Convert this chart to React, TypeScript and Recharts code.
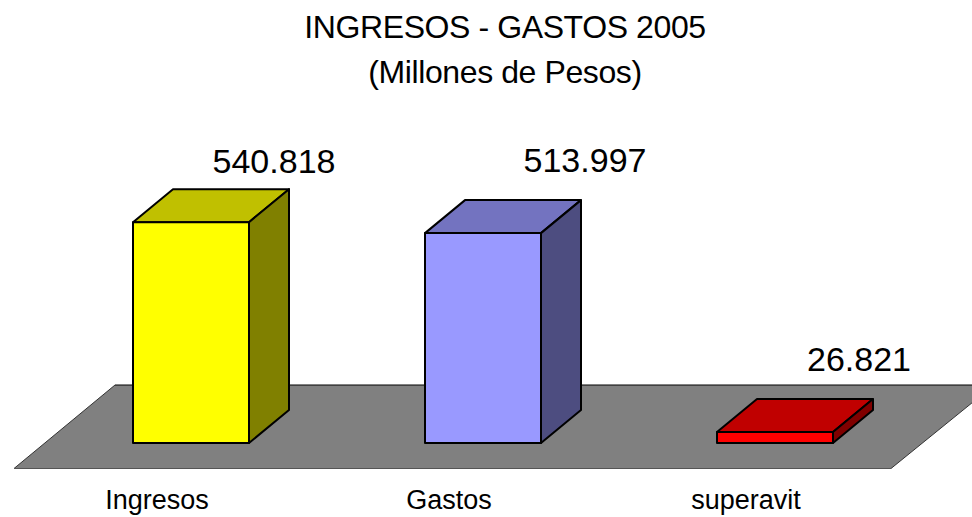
import { BarChart, Bar, XAxis, YAxis, LabelList, usePlotArea } from "recharts";

const categories = ["Ingresos", "Gastos", "superavit"];
const values = [540.818, 513.997, 26.821];
const titleLines = ["INGRESOS - GASTOS 2005", "(Millones de Pesos)"];

const chartData = categories.map((name, i) => ({ name, value: values[i] }));

// front, top, side
const barColors = [
  ["#FFFF00", "#C0C000", "#808000"],
  ["#9999FF", "#7373C0", "#4D4D80"],
  ["#FF0000", "#C00000", "#800000"],
];
const DEPTH_X = 40;
const DEPTH_Y = 33;
const font = "'Liberation Sans', Arial, sans-serif";

// data labels sit wherever they were dragged in the original, not on the bars
const labelShift = [
  [83, -49],
  [102, -61],
  [84, -61],
];
const tickShift = [-34, -34, -29];

// fake 3D floor under the bars
function Floor() {
  const plot = usePlotArea();
  if (!plot) return null;
  const bottom = plot.y + plot.height;
  const frontY = bottom + 25.5;
  const backY = bottom - 58;
  const left = plot.x;
  const right = plot.x + plot.width;
  const pts = `${left - 31},${frontY} ${right - 30},${frontY} ${right + 73},${backY} ${left + 70},${backY}`;
  return (
    <g>
      <polygon points={pts} fill="#808080" stroke="none" />
      <line x1={left - 31} y1={frontY} x2={left + 70} y2={backY} stroke="#333" />
      <line x1={left + 70} y1={backY} x2={right + 73} y2={backY} stroke="#000" />
      <line x1={left - 31} y1={frontY} x2={right - 30} y2={frontY} stroke="#555" />
      <line x1={right - 30} y1={frontY} x2={right + 73} y2={backY} stroke="#333" />
    </g>
  );
}

function Box(props: any) {
  const { x, y, width, height, index } = props;
  const [front, top, side] = barColors[index];
  const r = x + width;
  const b = y + height;
  return (
    <g stroke="#000" strokeWidth={2} strokeLinejoin="round">
      <polygon points={`${x},${y} ${r},${y} ${r + DEPTH_X},${y - DEPTH_Y} ${x + DEPTH_X},${y - DEPTH_Y}`} fill={top} />
      <polygon points={`${r},${y} ${r + DEPTH_X},${y - DEPTH_Y} ${r + DEPTH_X},${b - DEPTH_Y} ${r},${b}`} fill={side} />
      <rect x={x} y={y} width={width} height={height} fill={front} />
    </g>
  );
}

function ValueLabel(props: any) {
  const { x, y, width, index, value } = props;
  return (
    <text
      x={x + width / 2 + labelShift[index][0]}
      y={y + labelShift[index][1]}
      textAnchor="middle"
      fontFamily={font}
      fontSize={34}
      fill="#000"
    >
      {Number(value).toFixed(3)}
    </text>
  );
}

function CategoryTick(props: any) {
  const { x, y, payload, index } = props;
  return (
    <text x={x + tickShift[index]} y={y + 58} textAnchor="middle" fontFamily={font} fontSize={27} fill="#000">
      {payload.value}
    </text>
  );
}

export default function App() {
  return (
    <div style={{ position: "absolute", left: 0, top: 0, width: 972, height: 517, background: "#fff" }}>
      <BarChart
        width={972}
        height={517}
        data={chartData}
        margin={{ top: 198, right: 51, bottom: 0, left: 45 }}
        barSize={116}
      >
        <Floor />
        <text x={505} y={38} textAnchor="middle" fontFamily={font} fontSize={32} letterSpacing={-0.4} fill="#000">
          {titleLines[0]}
        </text>
        <text x={505} y={83} textAnchor="middle" fontFamily={font} fontSize={32} letterSpacing={-0.4} fill="#000">
          {titleLines[1]}
        </text>
        <XAxis
          dataKey="name"
          axisLine={false}
          tickLine={false}
          tick={<CategoryTick />}
          height={74}
          interval={0}
        />
        <YAxis hide domain={[0, 600]} />
        <Bar dataKey="value" shape={<Box />} isAnimationActive={false}>
          <LabelList dataKey="value" content={<ValueLabel />} />
        </Bar>
      </BarChart>
    </div>
  );
}
